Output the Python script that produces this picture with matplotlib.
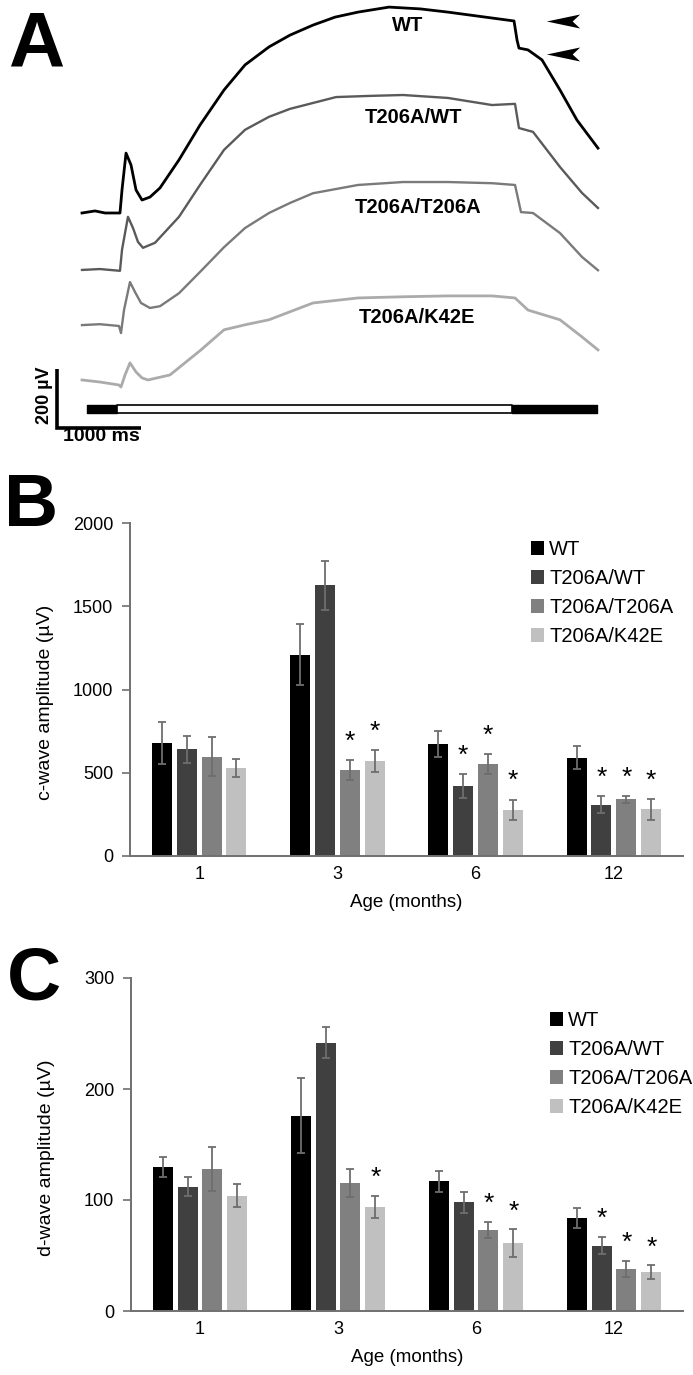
import numpy as np
import matplotlib
matplotlib.use("Agg")
import matplotlib.pyplot as plt
from matplotlib.path import Path

plt.rcParams['font.family'] = ['Liberation Sans', 'DejaVu Sans']

# ---------------- Panel A: representative ERG traces (time in ms, amplitude in µV) ----------------
wt_t = [0, 155, 274, 452, 476, 524, 583, 643, 714, 809, 928, 1154, 1404, 1690, 1940, 2225, 2475, 2749,
        3011, 3284, 3653, 4022, 4355, 4617, 4879, 5141, 5177, 5200, 5307, 5474, 5688, 5890, 6140]
wt_uv = [0, 7, 0, 0, 78, 203, 163, 78, 44, 54, 85, 180, 298, 417, 502, 563, 603, 637,
         664, 681, 698, 692, 681, 671, 661, 651, 586, 559, 553, 519, 417, 315, 220]

het_t = [0, 214, 452, 476, 547, 607, 666, 726, 869, 1154, 1404, 1690, 1940, 2225, 2475, 2749, 3023,
         3427, 3820, 4355, 4879, 5153, 5200, 5367, 5688, 5950, 6140]
het_uv = [0, 3, -3, 68, 180, 142, 95, 75, 92, 180, 288, 407, 475, 519, 546, 566, 586,
          590, 593, 583, 559, 563, 481, 468, 349, 261, 210]

hom_t = [0, 214, 440, 464, 500, 571, 631, 702, 809, 928, 1154, 1404, 1690, 1940, 2225, 2475, 2749,
         3284, 3820, 4355, 4879, 5153, 5224, 5367, 5688, 5950, 6140]
hom_uv = [0, 3, -3, -27, 51, 146, 112, 75, 58, 64, 108, 180, 264, 329, 380, 414, 447,
          475, 485, 485, 481, 475, 383, 380, 312, 231, 186]

k42e_t = [0, 214, 440, 464, 512, 571, 643, 714, 785, 1047, 1416, 1690, 1940, 2225, 2749, 3284,
          3820, 4355, 4879, 5153, 5307, 5688, 5950, 6140]
k42e_uv = [10, 3, -7, -14, 27, 68, 37, 17, 10, 27, 112, 180, 197, 214, 271, 288,
           292, 295, 295, 288, 247, 214, 156, 112]

trace_names = ['WT', 'T206A/WT', 'T206A/T206A', 'T206A/K42E']
stim_edges_ms = [60, 420, 5120, 6130]          # dark | light | dark
arrow_uv = [650, 540]                          # arrowheads on WT trace

# ---------------- Panel B / C: bar chart data ----------------
ages = ['1', '3', '6', '12']
genotypes = ['WT', 'T206A/WT', 'T206A/T206A', 'T206A/K42E']

c_wt = [680, 1210, 672, 591]
c_het = [640, 1625, 420, 308]
c_hom = [597, 516, 551, 340]
c_k42e = [528, 570, 278, 280]
c_wt_err = [127, 184, 77, 71]
c_het_err = [80, 146, 74, 51]
c_hom_err = [117, 60, 61, 20]
c_k42e_err = [55, 67, 61, 61]
c_wt_sig = [0, 0, 0, 0]
c_het_sig = [0, 0, 1, 1]
c_hom_sig = [0, 1, 1, 1]
c_k42e_sig = [0, 1, 1, 1]

d_wt = [130, 176, 117, 83.5]
d_het = [112, 241.5, 98, 59]
d_hom = [128, 115, 73, 38]
d_k42e = [104, 94, 61, 35]
d_wt_err = [9, 34, 9.5, 9]
d_het_err = [8.5, 14, 9.5, 8]
d_hom_err = [19.5, 12.5, 7.5, 7]
d_k42e_err = [10, 10, 12.5, 6]
d_wt_sig = [0, 0, 0, 0]
d_het_sig = [0, 0, 0, 1]
d_hom_sig = [0, 0, 1, 1]
d_k42e_sig = [0, 1, 1, 1]

# ---------------- figure ----------------
W, H = 693, 1375
fig = plt.figure(figsize=(W / 100, H / 100), dpi=100)

def fx(px):
    return px / W

def fy(py):
    return 1 - py / H

# ---- Panel A ----
axA = fig.add_axes([0, fy(450), 1, 450 / H])
ms_per_px = 11.9
uv_per_px = 3.39
x0_px, base_px = 82, 213
axA.set_xlim((0 - x0_px) * ms_per_px, (W - x0_px) * ms_per_px)
axA.set_ylim((base_px - 450) * uv_per_px, base_px * uv_per_px)
axA.axis('off')

traces = [(wt_t, wt_uv), (het_t, het_uv), (hom_t, hom_uv), (k42e_t, k42e_uv)]
trace_colors = ['#000000', '#5a5a5a', '#7a7a7a', '#ababab']
trace_offsets = [0, -193, -380, -576]
trace_lw = [2.0, 1.7, 1.7, 2.0]
for (t, v), c, off, lw in zip(traces, trace_colors, trace_offsets, trace_lw):
    axA.plot(t, np.array(v) + off, color=c, lw=lw, solid_joinstyle='round')

# trace labels
label_pos = [(3870, 637), (3950, 325), (4000, 20), (3990, -353)]
for name, (tx, ty) in zip(trace_names, label_pos):
    axA.text(tx, ty, name, ha='center', va='center', fontsize=14.5, fontweight='bold')

# arrowheads
arrow_path = Path([(-1, 0), (1, 0.42), (0.55, 0), (1, -0.42), (-1, 0)],
                  [Path.MOVETO, Path.LINETO, Path.LINETO, Path.LINETO, Path.CLOSEPOLY])
axA.plot([5720, 5720], arrow_uv, ls='none', marker=arrow_path, markersize=24,
         color='black', markeredgewidth=0)

# stimulus bar
sb_y, sb_h = -679, 27
axA.broken_barh([(stim_edges_ms[0], stim_edges_ms[1] - stim_edges_ms[0]),
                 (stim_edges_ms[2], stim_edges_ms[3] - stim_edges_ms[2])],
                (sb_y, sb_h), facecolors='black', edgecolor='black', lw=1)
axA.broken_barh([(stim_edges_ms[1], stim_edges_ms[2] - stim_edges_ms[1])],
                (sb_y, sb_h), facecolors='white', edgecolor='black', lw=1.2)

# scale bar 200 µV / 1000 ms
sx, sy = -298, -729
axA.plot([sx, sx, sx + 1000], [sy + 200, sy, sy], color='black', lw=2.6,
         solid_capstyle='butt', solid_joinstyle='miter')
axA.text(sx - 150, sy + 110, '200 µV', rotation=90, ha='center', va='center',
         fontsize=13, fontweight='bold')
axA.text(sx + 530, sy - 30, '1000 ms', ha='center', va='center',
         fontsize=14, fontweight='bold')

# panel letters
fig.text(fx(8), fy(67), 'A', fontsize=56, fontweight='bold', va='baseline', ha='left')
fig.text(fx(4), fy(526), 'B', fontsize=54, fontweight='bold', va='baseline', ha='left')
fig.text(fx(7), fy(1000), 'C', fontsize=54, fontweight='bold', va='baseline', ha='left')

# ---- Panels B and C ----
bar_colors = ['#000000', '#404040', '#808080', '#c0c0c0']

def bar_panel(ax, means, errs, sigs, ymax, yticks, ylabel, star_off, leg_xy):
    x = np.arange(len(ages))
    w, step = 0.145, 0.18
    for i, (g, c) in enumerate(zip(genotypes, bar_colors)):
        pos = x + (i - 1.5) * step
        ax.bar(pos, means[i], w, color=c, label=g, yerr=errs[i],
               error_kw=dict(ecolor='#6e6e6e', elinewidth=1.3, capsize=3, capthick=1.3))
        for p, m, e, s in zip(pos, means[i], errs[i], sigs[i]):
            if s:
                ax.text(p, m + e + star_off, '*', ha='center', va='center', fontsize=19)
    ax.set_xlim(-0.5, 3.5)
    ax.set_ylim(0, ymax)
    ax.set_yticks(yticks)
    ax.set_xticks(x)
    ax.set_xticklabels(ages)
    ax.tick_params(axis='x', length=0, pad=7, labelsize=13)
    ax.tick_params(axis='y', length=6, width=1.2, color='#707070', pad=6, labelsize=13)
    for s in ['top', 'right']:
        ax.spines[s].set_visible(False)
    for s in ['left', 'bottom']:
        ax.spines[s].set_color('#707070')
        ax.spines[s].set_linewidth(1.4)
    ax.set_xlabel('Age (months)', fontsize=13.5, labelpad=8)
    ax.set_ylabel(ylabel, fontsize=14)
    ax.yaxis.set_label_coords(-0.138, 0.46)
    ax.legend(loc='upper left', bbox_to_anchor=leg_xy, bbox_transform=fig.transFigure,
              frameon=False, fontsize=14.5, handlelength=0.65, handleheight=0.65,
              handletextpad=0.25, labelspacing=0.5, borderpad=0, borderaxespad=0)

axB = fig.add_axes([fx(130), fy(856), fx(683) - fx(130), (856 - 523) / H])
bar_panel(axB, [c_wt, c_het, c_hom, c_k42e], [c_wt_err, c_het_err, c_hom_err, c_k42e_err],
          [c_wt_sig, c_het_sig, c_hom_sig, c_k42e_sig], 2000, [0, 500, 1000, 1500, 2000],
          'c-wave amplitude (µV)', 110, (fx(531), fy(540)))

axC = fig.add_axes([fx(131), fy(1311), fx(683) - fx(131), (1311 - 978) / H])
bar_panel(axC, [d_wt, d_het, d_hom, d_k42e], [d_wt_err, d_het_err, d_hom_err, d_k42e_err],
          [d_wt_sig, d_het_sig, d_hom_sig, d_k42e_sig], 300, [0, 100, 200, 300],
          'd-wave amplitude (µV)', 16, (fx(550), fy(1011)))

fig.savefig('out.png', dpi=100)
